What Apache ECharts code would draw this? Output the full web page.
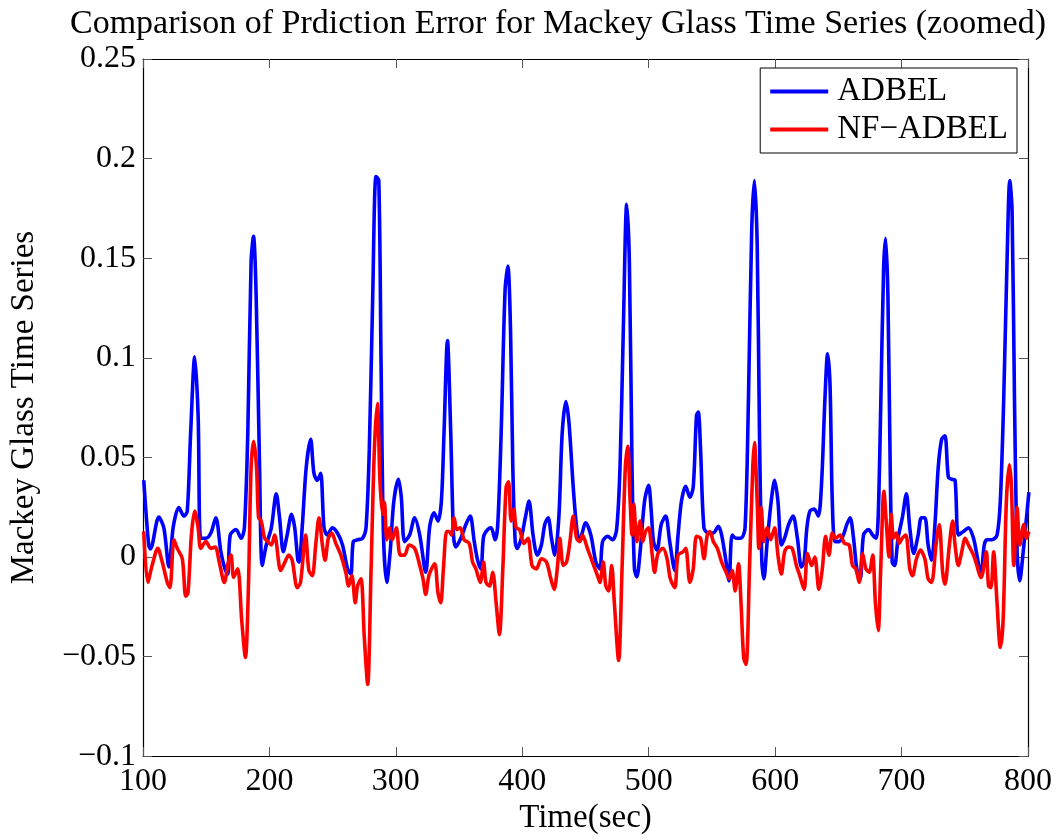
<!DOCTYPE html>
<html>
<head>
<meta charset="utf-8">
<script src="https://cdn.jsdelivr.net/npm/echarts@6/dist/echarts.min.js"></script>
<style>
html,body{margin:0;padding:0;background:#fff;}
#chart{width:1060px;height:840px;}
</style>
</head>
<body>
<div id="chart"></div>
<script>
const titleText = 'Comparison of Prdiction Error for Mackey Glass Time Series (zoomed)';
const xName = 'Time(sec)';
const yName = 'Mackey Glass Time Series';
const seriesNames = ['ADBEL', 'NF\u2212ADBEL'];
const xTicks = [100, 200, 300, 400, 500, 600, 700, 800];
const yTicks = [-0.1, -0.05, 0, 0.05, 0.1, 0.15, 0.2, 0.25];

const adbelT = [100.6,104.5,105.9,112.5,116.5,120.5,124,128.4,132.4,135,137.7,140.9,143.6,145.7,149.7,153.7,157.6,161.6,164.8,167,169,173.6,177.6,180.2,182.9,185.5,187.4,189.5,192.2,194.3,197.5,201.5,205.4,208,211,214,217.5,220,222.5,223.5,225.9,229.1,232.6,235.2,237.9,240.5,243.2,245.8,249.8,253.8,257.8,261.8,264.4,266.3,269.7,273.7,276.4,279,281.7,284.3,286.5,288.3,290.2,292.8,295.5,298.4,302.1,304.3,306.9,310.9,314.9,318.9,323.6,326.8,330.2,333.3,336,338.1,340.8,343.4,345.6,347.4,351.4,355.4,358.8,362,364.7,367.3,369.4,372.6,375.3,378.5,380.6,383.3,386.4,388.6,390.7,392.5,394.4,396,399.2,402.4,405.3,408.5,411.9,415.1,417.8,420.4,423.1,425.7,428.9,431.6,434.5,436.9,440.3,443,445.3,450.2,454.2,458.2,461.4,463.5,467.5,471.5,474.6,477.3,479.9,482.6,484.7,486.8,488.7,490.6,493.2,496.7,499.9,502,503.8,506.5,509.9,513.4,516.6,520.6,523.2,525.9,529.3,532.5,535.2,537.8,539.2,541,543.7,547.1,551.1,555.1,557.7,561.2,563.5,566,569,573,576.2,578.9,581.5,583.6,585.8,587.6,589.5,591.1,593.7,596.9,599.6,602.2,604.9,607.5,610.7,614.2,617.6,620.8,622.9,625.1,627.5,630.9,634.1,636.7,639.4,641.5,643.4,645.2,647.4,650.5,654,656.7,659.3,662,664.6,667.3,669.9,673.9,677.1,679.8,681.5,683.5,685.8,687.4,689.2,691,692.6,694.5,697.2,700.6,703.8,706.5,709.6,713.1,715.7,718.4,721,723.7,726.4,729,731.7,734.3,737,739.6,742.3,744.9,748.9,752.9,756.9,759.6,762.7,765.4,767.5,771.5,775.5,778.1,780.8,783.4,785.6,787.4,789.3,791.4,793.5,796.2,798.8,800.7];
const adbelV = [0.0385,0.006,0.004,0.020,0.0146,-0.005,0.0154,0.0248,0.0205,0.023,0.0625,0.1005,0.071,0.0094,0.0094,0.012,0.0197,0.0026,-0.006,-0.0086,0.011,0.0137,0.0094,0.0146,0.0625,0.148,0.161,0.131,0.045,-0.0043,0.006,0.0146,0.0317,0.0197,0.0026,0.011,0.0214,0.0146,-0.0017,-0.0026,0.0146,0.045,0.059,0.042,0.0385,0.042,0.0146,0.011,0.0146,0.012,0.006,-0.006,-0.0086,0.0077,0.0086,0.0094,0.0146,0.054,0.131,0.191,0.189,0.097,0.011,-0.0128,0.0026,0.028,0.039,0.030,0.0077,0.011,0.0197,0.011,-0.0077,0.0154,0.0222,0.018,0.028,0.0625,0.1087,0.0625,0.011,0.005,0.0094,0.0163,0.0205,0.0077,-0.0017,-0.006,0.0103,0.0137,0.0146,0.0086,0.0163,0.0625,0.134,0.146,0.114,0.045,0.0077,0.0043,0.0094,0.0197,0.028,0.011,0.0009,0.006,0.0163,0.0197,0.0094,0.0009,0.0197,0.0625,0.078,0.0676,0.035,0.0146,0.008,0.0171,0.011,-0.0026,-0.006,0.0077,0.0103,0.0086,0.0137,0.045,0.114,0.177,0.148,0.045,-0.006,-0.010,0.0026,0.028,0.036,0.023,0.0077,0.0034,0.0163,0.0205,0.0077,-0.0068,0.011,0.028,0.0355,0.030,0.035,0.071,0.0727,0.054,0.0146,0.012,0.012,0.0154,0.011,-0.0026,-0.012,0.011,0.0094,0.0094,0.0146,0.0796,0.165,0.189,0.157,0.0625,-0.0026,-0.011,0.0077,0.028,0.0385,0.028,0.006,0.0094,0.0163,0.0205,0.0094,-0.005,-0.0026,0.0146,0.023,0.024,0.0205,0.0368,0.0796,0.102,0.0865,0.028,0.0077,0.0077,0.011,0.0163,0.0197,0.0094,-0.006,-0.011,0.011,0.0137,0.011,0.0094,0.02,0.075,0.145,0.160,0.131,0.045,-0.0026,-0.0043,0.0094,0.0197,0.0317,0.0146,0.0017,0.011,0.0197,0.0197,0.006,-0.0017,0.0163,0.045,0.059,0.0608,0.040,0.039,0.0385,0.011,0.0128,0.0146,0.0094,0.0009,-0.0094,0.006,0.0086,0.0086,0.011,0.028,0.0796,0.148,0.189,0.174,0.0796,0.0026,-0.012,0.0026,0.0197,0.0325];

const nfT = [100.6,103.8,107.2,111.7,115.2,119.2,121.3,124.5,127.1,131.1,133.8,135.6,138.3,140.9,143.6,145.7,149.7,153.7,157.1,160.3,164.3,167.5,169.6,171.7,174.9,178.1,181,183.4,185.5,187.6,189.8,191.4,193.5,196.2,198.8,201.5,204.1,208.9,212,215.3,218,222,224.6,228.6,231.2,233.9,236.6,239.2,241.9,244,246.6,249.3,252.5,256.5,260.4,262.6,265.2,267.9,269.7,272.4,275,277.7,280.4,283,285.4,287.5,289.7,291,292.8,295,297.1,300.3,303.5,306.9,310.4,314.9,318.9,321.5,323.6,326.3,330.7,333.3,335.5,337.6,340.2,342.1,344,346.1,348.2,350.9,354,358,360.7,363.3,366.8,369.4,371.3,374,376.6,379.3,381.9,384.6,387.2,389.1,391.2,393.3,395.2,397.9,401.3,404.5,407.7,411.1,415.1,419.1,422.6,425.2,427.9,429.7,432.4,435,437.7,440.3,443,445.6,447.6,451.5,455.5,459.5,461.4,464,466.1,468.3,470.7,472.8,476.2,478.9,481.5,483.4,485.3,486.8,488.2,490.6,493.2,495.3,497.5,499.9,502.8,504.6,507.3,511.3,514.5,517.1,520.6,523.2,527.2,529.3,532.5,535.2,537.8,541,543.7,546.3,548.4,551.1,554.3,557.7,561.2,563.8,566,568.4,571,573,575.1,577,579.7,582.3,583.6,585.8,587.1,589,591.1,593.7,596.4,599.6,602.2,604.9,607.5,610.2,613.4,616.8,619.5,622.9,625.6,628.8,631.4,634.6,637.3,639.9,642.6,645.2,647.9,651.3,654.8,658.5,661.2,663.8,666.5,669.1,671.8,674.4,677.1,679.3,681.5,683.5,686,688.2,690,691.8,693.7,695.8,698,700.6,703.3,706.5,708.6,711.8,714.9,718.4,721,723.7,727.2,729.8,732.5,734.3,737.8,740.4,742.3,744.9,747.6,750.3,752.9,756.9,759.6,762.7,764.3,767,768.8,770.7,772.8,775.5,778.1,780.3,782.9,785.3,786.9,788.8,791.4,793.5,796.7,798.8,800.7];
const nfV = [0.0128,-0.0128,-0.0043,0.0043,-0.0026,-0.0128,-0.0154,0.0086,0.0043,-0.0009,-0.0197,-0.018,0.011,0.023,0.0146,0.0043,0.0077,0.0043,0.005,-0.0026,-0.0128,-0.0026,0.0009,-0.0103,-0.006,-0.032,-0.0505,-0.0146,0.045,0.058,0.045,0.0197,0.018,0.0094,0.0077,0.006,0.011,-0.0068,-0.003,0.0009,-0.0017,-0.0154,-0.0128,0.011,-0.0068,-0.0094,0.006,0.0197,0.006,-0.0017,0.0094,0.012,0.0068,0.0009,-0.0077,-0.0146,-0.0094,-0.023,-0.0146,-0.011,-0.040,-0.064,-0.006,0.054,0.077,0.037,0.0214,0.0274,0.0086,0.0146,0.0086,0.0146,0.0009,0.0009,0.006,0.0043,-0.0043,-0.011,-0.0188,-0.009,-0.0034,-0.018,-0.023,-0.006,0.0128,0.0128,0.011,0.0197,0.0137,0.0146,0.0086,0.0068,-0.0026,-0.006,-0.0128,-0.0026,-0.0128,-0.0146,-0.0077,-0.023,-0.039,-0.006,0.035,0.0377,0.018,0.024,0.0146,0.0137,0.0068,0.0094,-0.0043,-0.006,-0.0009,-0.0026,-0.011,-0.0163,-0.0043,0.0094,-0.0043,-0.0026,0.0077,0.0205,0.0094,0.0077,0.011,0.0043,-0.0026,-0.0094,-0.0128,-0.0026,-0.0146,-0.0171,-0.0043,-0.023,-0.052,-0.006,0.045,0.0556,0.028,0.011,0.0265,0.0077,0.018,0.0077,0.0128,0.0146,0.0009,-0.0077,0.0017,0.0043,-0.0009,-0.011,-0.0154,0.0009,0.0026,0.0043,-0.0128,-0.006,0.0103,0.0094,-0.0009,0.011,0.0128,0.0077,0.0043,-0.0026,-0.0077,-0.011,-0.0068,-0.0171,-0.0034,-0.023,-0.0505,-0.054,-0.006,0.045,0.0574,0.028,0.0043,0.0248,0.0077,0.0146,0.0086,0.0146,0.0009,-0.0086,0.0026,0.005,0.0043,-0.0043,-0.0094,-0.0163,0.0017,-0.0043,0,-0.0163,-0.006,0.0103,0.0009,0.012,0.0094,0.011,0.0068,0.006,-0.0043,-0.006,-0.0128,0.0017,-0.006,-0.0077,0.0009,-0.023,-0.037,-0.006,0.033,0.0146,0,0.0214,0.0094,0.012,0.0068,0.0094,0.011,-0.006,-0.0094,-0.0009,0.0034,-0.0009,-0.011,-0.0128,0.006,0.0163,-0.0077,-0.0137,0.006,0.018,0.006,-0.0043,0.0026,0.0094,0.006,0.0009,-0.0043,-0.0103,-0.0077,0.0026,-0.0146,-0.0154,0.0026,-0.023,-0.0454,-0.032,0.028,0.0462,0.035,-0.0043,0.0248,0.006,0.0163,0.0094,0.0128];

const FONT = 'Liberation Serif';
const minusFmt = v => {
  const r = Math.round(v * 1000) / 1000;
  return (r < 0 ? '\u2212' : '') + String(Math.abs(r));
};
const pairs = (t, v) => t.map((x, i) => [x, v[i]]);

const chart = echarts.init(document.getElementById('chart'), null, {renderer: 'canvas'});
const axisCommonX = {
  type: 'value', min: xTicks[0], max: xTicks[xTicks.length - 1], interval: 100,
  splitLine: {show: false},
  axisLine: {show: true, onZero: false, lineStyle: {color: '#000', width: 1.2}},
  axisTick: {show: true, inside: true, length: 9, lineStyle: {color: '#555', width: 1}}
};
const axisCommonY = {
  type: 'value', min: yTicks[0], max: yTicks[yTicks.length - 1], interval: 0.05,
  splitLine: {show: false},
  axisLine: {show: true, onZero: false, lineStyle: {color: '#000', width: 1.2}},
  axisTick: {show: true, inside: true, length: 9, lineStyle: {color: '#555', width: 1}}
};

chart.setOption({
  animation: false,
  backgroundColor: '#fff',
  title: {
    text: titleText, left: 553, top: 2, textAlign: 'center',
    textStyle: {fontFamily: FONT, fontSize: 34, fontWeight: 'normal', color: '#000'}
  },
  legend: {
    orient: 'vertical', right: 43, top: 68,
    backgroundColor: '#fff', borderColor: '#000', borderWidth: 1,
    padding: [7, 9, 7, 10], itemGap: 5,
    itemWidth: 58, itemHeight: 4, icon: 'rect',
    textStyle: {fontFamily: FONT, fontSize: 33, color: '#000', padding: [0, 0, 0, 4]},
    data: seriesNames
  },
  grid: {left: 134, right: 32, top: 59, bottom: 77, containLabel: false},
  xAxis: [
    Object.assign({}, axisCommonX, {
      position: 'bottom', name: xName, nameLocation: 'middle', nameGap: 44,
      nameTextStyle: {fontFamily: FONT, fontSize: 33, color: '#000'},
      axisLabel: {fontFamily: FONT, fontSize: 32, color: '#000', margin: 9}
    }),
    Object.assign({}, axisCommonX, {position: 'top', axisLabel: {show: false}})
  ],
  yAxis: [
    Object.assign({}, axisCommonY, {
      position: 'left', name: yName, nameLocation: 'middle', nameGap: 102,
      nameTextStyle: {fontFamily: FONT, fontSize: 33, color: '#000'},
      axisLabel: {fontFamily: FONT, fontSize: 32, color: '#000', margin: 7, formatter: minusFmt}
    }),
    Object.assign({}, axisCommonY, {position: 'right', axisLabel: {show: false}})
  ],
  series: [
    {
      name: seriesNames[0], type: 'line', data: pairs(adbelT, adbelV),
      xAxisIndex: 0, yAxisIndex: 0, showSymbol: false, smooth: 0.3,
      clip: true, lineStyle: {color: '#0000ff', width: 3.6}, itemStyle: {color: '#0000ff'}
    },
    {
      name: seriesNames[1], type: 'line', data: pairs(nfT, nfV),
      xAxisIndex: 0, yAxisIndex: 0, showSymbol: false, smooth: 0.3,
      clip: true, lineStyle: {color: '#ff0000', width: 3.6}, itemStyle: {color: '#ff0000'}
    }
  ]
});
</script>
</body>
</html>
